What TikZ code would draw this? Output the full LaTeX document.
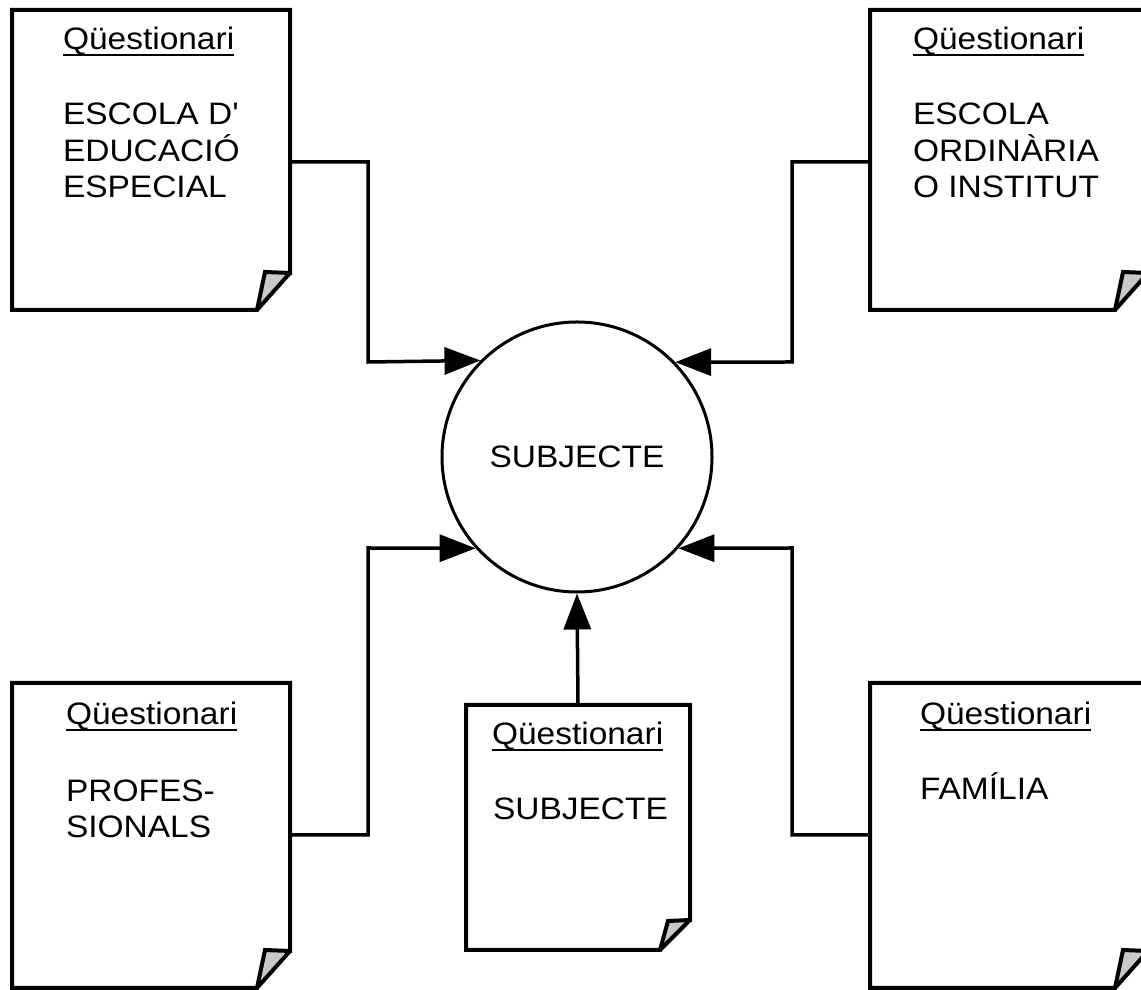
\documentclass[tikz,border=0pt]{standalone}
\usepackage{fontspec}
\setmainfont[FakeStretch=1.08]{Liberation Sans}
\usetikzlibrary{arrows.meta}
\definecolor{foldgray}{RGB}{200,200,200}
\tikzset{
  docnode/.style={draw=none, inner sep=0pt, outer sep=0pt, rectangle},
  docline/.style={line width=4pt, line join=miter},
  conn/.style={line width=3.5pt, -{Triangle[length=36pt,width=27pt]}},
  txt/.style={inner sep=0pt, outer sep=0pt, anchor=base west, font=\fontsize{31}{36.5}\selectfont, align=left},
  ulline/.style={line width=1.8pt},
}
\newcommand\docdraw[5]{%
  \fill[foldgray] ([xshift=-#2pt]#1.south east) -- ([xshift=-#4pt,yshift=#5pt]#1.south east) -- ([yshift=#3pt]#1.south east) -- cycle;
  \draw[docline] (#1.north west) -- (#1.north east) -- ([yshift=#3pt]#1.south east) -- ([xshift=-#4pt,yshift=#5pt]#1.south east) -- ([xshift=-#2pt]#1.south east) -- (#1.south west) -- cycle;
  \draw[docline] ([xshift=-#2pt]#1.south east) -- ([yshift=#3pt]#1.south east);
}
\newcommand\qlabel[3]{%
  \node[txt] (#1) at (#2,#3) {Qüestionari};
  \draw[ulline] ([yshift=-5pt]#1.base west) -- ([yshift=-5pt]#1.base east);
}
\begin{document}
\begin{tikzpicture}[x=1pt,y=1pt]
\useasboundingbox (0,0) rectangle (1141,990);
\clip (0,0) rectangle (1141,990);
\fill[white] (0,0) rectangle (1141,990);

% documents
\node[docnode, minimum width=278pt, minimum height=300pt] (tl) at (151,830) {};
\node[docnode, minimum width=278pt, minimum height=300pt] (tr) at (1009,830) {};
\node[docnode, minimum width=278pt, minimum height=305pt] (bl) at (151,154.5) {};
\node[docnode, minimum width=278pt, minimum height=305pt] (br) at (1009,154.5) {};
\node[docnode, minimum width=224pt, minimum height=245pt] (bm) at (578,162.5) {};

\docdraw{tl}{33}{37}{25}{38}
\docdraw{tr}{33}{37}{25}{38}
\docdraw{bl}{33}{37}{25}{38}
\docdraw{br}{33}{37}{25}{38}
\docdraw{bm}{30}{30}{22}{29}

% central circle
\node[circle, draw, line width=3pt, minimum size=270pt, inner sep=0pt,
      font=\fontsize{31}{36.5}\selectfont] (subj) at (577,533) {SUBJECTE};

% texts (base anchor = baseline of last line)
\qlabel{q1}{63}{940}
\node[txt] (t1) at (63,792) {ESCOLA D\textquotesingle\\EDUCACIÓ\\ESPECIAL};
\qlabel{q2}{913}{940}
\node[txt] (t2) at (913,792) {ESCOLA\\ORDINÀRIA\\O INSTITUT};
\qlabel{q3}{66}{265}
\node[txt] (t3) at (66,152) {PROFES-\\SIONALS};
\qlabel{q4}{920}{265}
\node[txt] (t4) at (920,190) {FAMÍLIA};
\qlabel{q5}{492}{245}
\node[txt] (t5) at (493,170) {SUBJECTE};

% connectors
\draw[conn] (tl.east |- 0,828) -- (368,828) -- (368,628) -- (subj.135.3);
\draw[conn] (tr.west |- 0,828) -- (792,828) -- (792,628) -- (subj.44.7);
\draw[conn] (bl.east |- 0,155) -- (368,155) -- (368,442) -- (subj.222.4);
\draw[conn] (br.west |- 0,155) -- (792,155) -- (792,442) -- (subj.-42.4);
\draw[conn] (bm.north) -- (subj.south);
\end{tikzpicture}
\end{document}
